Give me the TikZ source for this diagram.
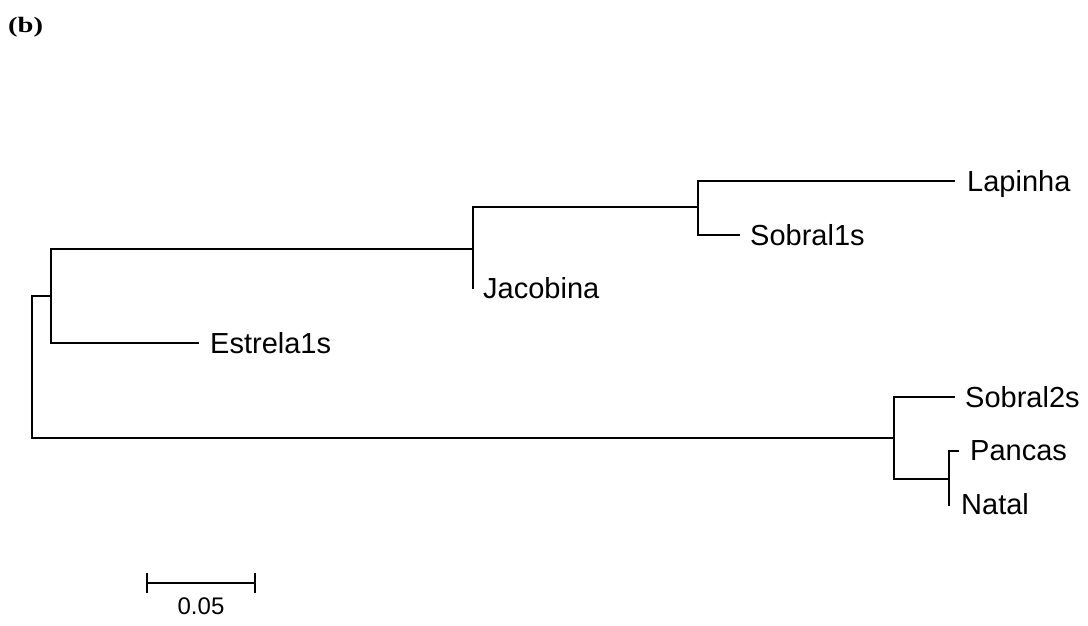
\documentclass[tikz,border=0pt]{standalone}
\usepackage{fontspec}
\setmainfont{Liberation Sans}
\newfontfamily\panelfont{Liberation Serif}
\begin{document}
\begin{tikzpicture}[x=1pt,y=-1pt,
  branch/.style={line width=1.8pt},
  taxon/.style={anchor=base west, inner sep=0pt, font=\fontsize{29}{29}\selectfont},
  scalelabel/.style={anchor=base, inner sep=0pt, font=\fontsize{24}{24}\selectfont},
  panel/.style={anchor=base west, inner sep=0pt, font=\panelfont\bfseries\fontsize{22}{22}\selectfont}]
\useasboundingbox (0,0) rectangle (1088,625);

% panel tag
\node[panel] (tag) at (8,32) {\scalebox{1.3}[1]{(b)}};

% internal nodes
\coordinate (root) at (32,367);
\coordinate (nA) at (51,296);
\coordinate (nC) at (473,249);
\coordinate (nD) at (698,207);
\coordinate (nB) at (894,438);
\coordinate (nE) at (949,479);

% branch tips
\coordinate (tLap) at (955,181);
\coordinate (tSob1) at (740,235);
\coordinate (tJac) at (473,289);
\coordinate (tEst) at (199,343);
\coordinate (tSob2) at (955,397);
\coordinate (tPan) at (959,451);
\coordinate (tNat) at (949,506);

% taxon labels
\node[taxon] (Lapinha) at (967,191) {Lapinha};
\node[taxon] (Sobral1s) at (750,245) {Sobral1s};
\node[taxon] (Jacobina) at (483,298) {Jacobina};
\node[taxon] (Estrela1s) at (210,353) {Estrela1s};
\node[taxon] (Sobral2s) at (965,407) {Sobral2s};
\node[taxon] (Pancas) at (970,460) {Pancas};
\node[taxon] (Natal) at (961,514) {Natal};

% tree branches
\draw[branch] (nA) -| (root) |- (nB);
\draw[branch] (nC) -| (nA) |- (tEst);
\draw[branch] (nD) -| (nC) |- (tJac);
\draw[branch] (tLap) -| (nD) |- (tSob1);
\draw[branch] (tSob2) -| (nB) |- (nE);
\draw[branch] (tPan) -| (nE) |- (tNat);

% scale bar
\coordinate (sL) at (147,583);
\coordinate (sR) at (255,583);
\draw[branch] (sL) -- (sR);
\draw[branch] ([yshift=-10pt]sL) -- ([yshift=10pt]sL);
\draw[branch] ([yshift=-10pt]sR) -- ([yshift=10pt]sR);
\node[scalelabel] (scaleval) at (201,614) {0.05};
\end{tikzpicture}
\end{document}
